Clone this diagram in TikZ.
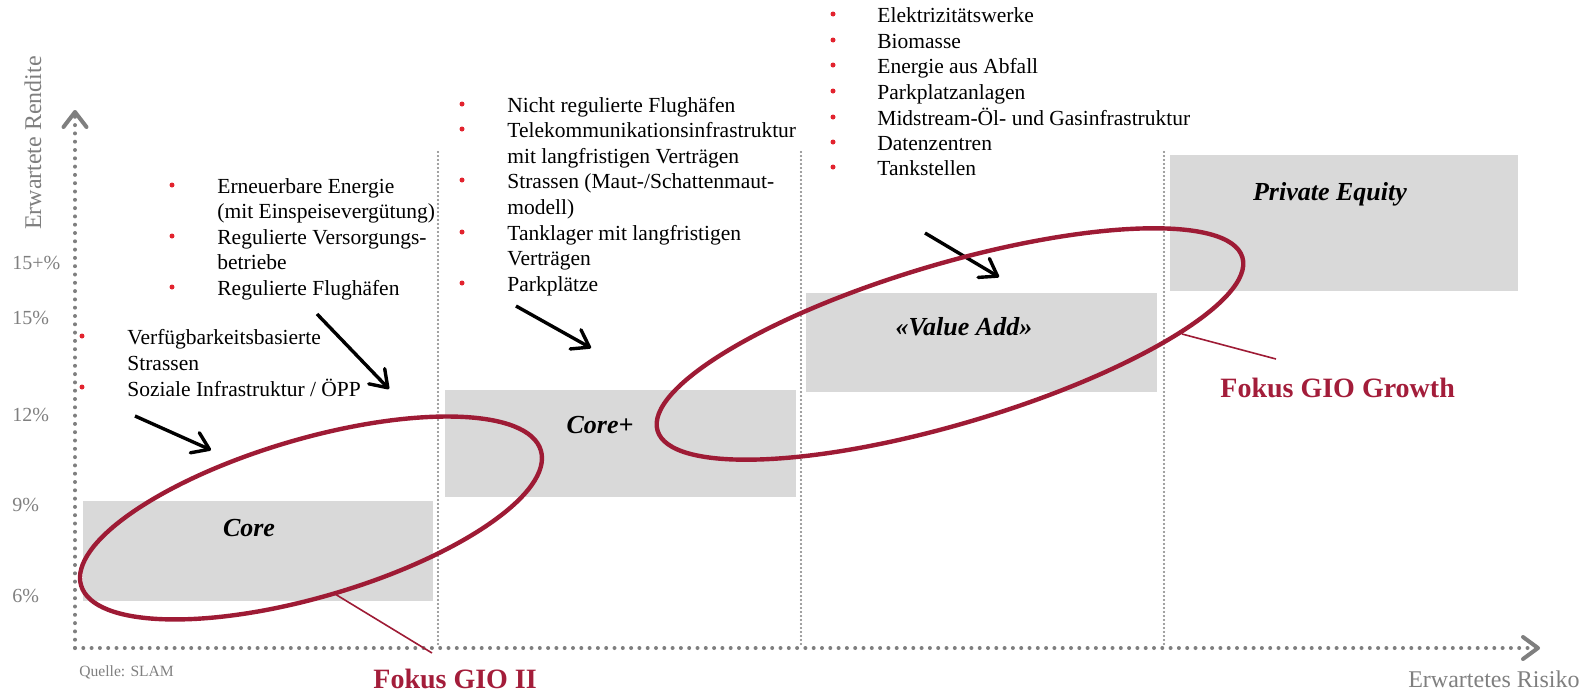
\documentclass[tikz,border=0pt]{standalone}
\usepackage{fontspec}
\setmainfont{Liberation Serif}
\usetikzlibrary{arrows.meta,fit}
\definecolor{axisgray}{HTML}{7F7F7F}
\definecolor{sepgray}{HTML}{808080}
\definecolor{boxgray}{HTML}{D9D9D9}
\definecolor{bulletred}{HTML}{E2232E}
\definecolor{focusred}{HTML}{9E1B35}
\definecolor{labelred}{HTML}{A31D3A}
\begin{document}
\begin{tikzpicture}[x=0.5pt,y=-0.5pt,
  txt/.style={anchor=base west, inner sep=0pt, font=\fontsize{10.75}{12.9}\selectfont},
  bul/.style={circle, fill=bulletred, inner sep=0pt, minimum size=2.5pt},
  tick/.style={anchor=base west, inner sep=0pt, text=axisgray, font=\fontsize{10}{12}\selectfont},
  axtitle/.style={inner sep=0pt, text=axisgray, font=\fontsize{12}{14}\selectfont},
  box/.style={fill=boxgray, inner sep=0pt, draw=none},
  boxlabel/.style={anchor=base, inner sep=0pt, font=\fontsize{13}{15}\selectfont\bfseries\itshape},
  axis/.style={axisgray, line width=2pt, line cap=round, dash pattern=on 0pt off 4.15pt},
  sepline/.style={sepgray, line width=1.05pt, line cap=round, dash pattern=on 0pt off 2pt},
  pointer/.style={black, line width=1.7pt, -{Straight Barb[round,length=8pt,width=11pt]}},
  focus/.style={focusred, line width=2.2pt},
  focusline/.style={focusred, line width=0.8pt},
  focuslabel/.style={anchor=base west, inner sep=0pt, text=labelred, font=\fontsize{14}{16}\selectfont\bfseries},
]
\useasboundingbox (0,0) rectangle (1587,691);

% boxes
\node[box, fit={(83,501)(433,601)}] (corebox) {};
\node[box, fit={(445,390)(796,497)}] (coreplusbox) {};
\node[box, fit={(806,293)(1157,392)}] (vabox) {};
\node[box, fit={(1170,155)(1518,291)}] (pebox) {};
\node[boxlabel] (corelbl) at (249,536) {Core};
\node[boxlabel] (corepluslbl) at (600,433) {Core+};
\node[boxlabel] (valbl) at (964,335) {«Value Add»};
\node[boxlabel] (pelbl) at (1330,200) {Private Equity};

% separators
\coordinate (s1t) at (438,152); \coordinate (s1b) at (438,646);
\coordinate (s2t) at (801,152); \coordinate (s2b) at (801,646);
\coordinate (s3t) at (1164,152); \coordinate (s3b) at (1164,646);
\draw[sepline] (s1t) -- (s1b);
\draw[sepline] (s2t) -- (s2b);
\draw[sepline] (s3t) -- (s3b);

% axes
\coordinate (O) at (75,648);
\coordinate (Ytop) at (75,110);
\coordinate (Xend) at (1540,648);
\draw[axis, -{Straight Barb[round,length=7.5pt,width=11.5pt,line width=2pt]}] (O) -- (Ytop);
\draw[axis, -{Straight Barb[round,length=7.5pt,width=11pt,line width=2pt]}] (O) -- (Xend);
\node[axtitle, rotate=90] (ylab) at (33,143) {Erwartete Rendite};
\node[axtitle, anchor=base east] (xlab) at (1580,687) {Erwartetes Risiko};
\node[tick] (t1) at (12,269) {15+\%};
\node[tick] (t2) at (12,324) {15\%};
\node[tick] (t3) at (12,421) {12\%};
\node[tick] (t4) at (12,511) {9\%};
\node[tick] (t5) at (12,602) {6\%};
\node[anchor=base west, inner sep=0pt, text=axisgray, font=\fontsize{7.8}{9}\selectfont] (src) at (79,676) {Quelle: SLAM};

% group B (left)
\node[bul] (bb1) at (82,336) {};
\node[bul] (bb2) at (82,387) {};
\node[txt] (tb1) at (127,344) {Verfügbarkeitsbasierte};
\node[txt] (tb2) at (127,370) {Strassen};
\node[txt] (tb3) at (127,396) {Soziale Infrastruktur / ÖPP};

% group A
\node[bul] (ba1) at (172,185) {};
\node[bul] (ba2) at (172,236) {};
\node[bul] (ba3) at (172,287) {};
\node[txt] (ta1) at (217,193) {Erneuerbare Energie};
\node[txt] (ta2) at (217,218) {(mit Einspeisevergütung)};
\node[txt] (ta3) at (217,244) {Regulierte Versorgungs-};
\node[txt] (ta4) at (217,269) {betriebe};
\node[txt] (ta5) at (217,295) {Regulierte Flughäfen};

% group C
\node[bul] (bc1) at (462,104) {};
\node[bul] (bc2) at (462,129) {};
\node[bul] (bc3) at (462,180) {};
\node[bul] (bc4) at (462,232) {};
\node[bul] (bc5) at (462,283) {};
\node[txt] (tc1) at (507,112) {Nicht regulierte Flughäfen};
\node[txt] (tc2) at (507,137) {Telekommunikationsinfrastruktur};
\node[txt] (tc3) at (507,163) {mit langfristigen Verträgen};
\node[txt] (tc4) at (507,188) {Strassen (Maut-/Schattenmaut-};
\node[txt] (tc5) at (507,214) {modell)};
\node[txt] (tc6) at (507,240) {Tanklager mit langfristigen};
\node[txt] (tc7) at (507,265) {Verträgen};
\node[txt] (tc8) at (507,291) {Parkplätze};

% group D
\node[bul] (bd1) at (833,14) {};
\node[bul] (bd2) at (833,40) {};
\node[bul] (bd3) at (833,65) {};
\node[bul] (bd4) at (833,91) {};
\node[bul] (bd5) at (833,117) {};
\node[bul] (bd6) at (833,142) {};
\node[bul] (bd7) at (833,167) {};
\node[txt] (td1) at (877,22) {Elektrizitätswerke};
\node[txt] (td2) at (877,48) {Biomasse};
\node[txt] (td3) at (877,73) {Energie aus Abfall};
\node[txt] (td4) at (877,99) {Parkplatzanlagen};
\node[txt] (td5) at (877,125) {Midstream-Öl- und Gasinfrastruktur};
\node[txt] (td6) at (877,150) {Datenzentren};
\node[txt] (td7) at (877,175) {Tankstellen};

% black arrows
\coordinate (a1s) at (135,416); \coordinate (a1e) at (211,450);
\coordinate (a2s) at (317,314); \coordinate (a2e) at (389,389);
\coordinate (a3s) at (516,306); \coordinate (a3e) at (591,348);
\coordinate (a4s) at (925,233); \coordinate (a4e) at (999,277);
\draw[pointer] (a1s) -- (a1e);
\draw[pointer] (a2s) -- (a2e);
\draw[pointer] (a3s) -- (a3e);
\draw[pointer] (a4s) -- (a4e);

% focus ellipses
\coordinate (e1c) at (311,518);
\coordinate (e2c) at (950,344);
\draw[focus, rotate around={16.35:(e1c)}] (e1c) ellipse [x radius=239.6, y radius=79];
\draw[focus, rotate around={16.5:(e2c)}] (e2c) ellipse [x radius=305, y radius=80];
\coordinate (f1a) at (335,594); \coordinate (f1b) at (432,653);
\coordinate (f2a) at (1182,334); \coordinate (f2b) at (1276,359);
\draw[focusline] (f1a) -- (f1b);
\draw[focusline] (f2a) -- (f2b);
\node[focuslabel] (fgio2) at (373,688) {Fokus GIO II};
\node[focuslabel] (fgiog) at (1220,397) {Fokus GIO Growth};
\end{tikzpicture}
\end{document}
